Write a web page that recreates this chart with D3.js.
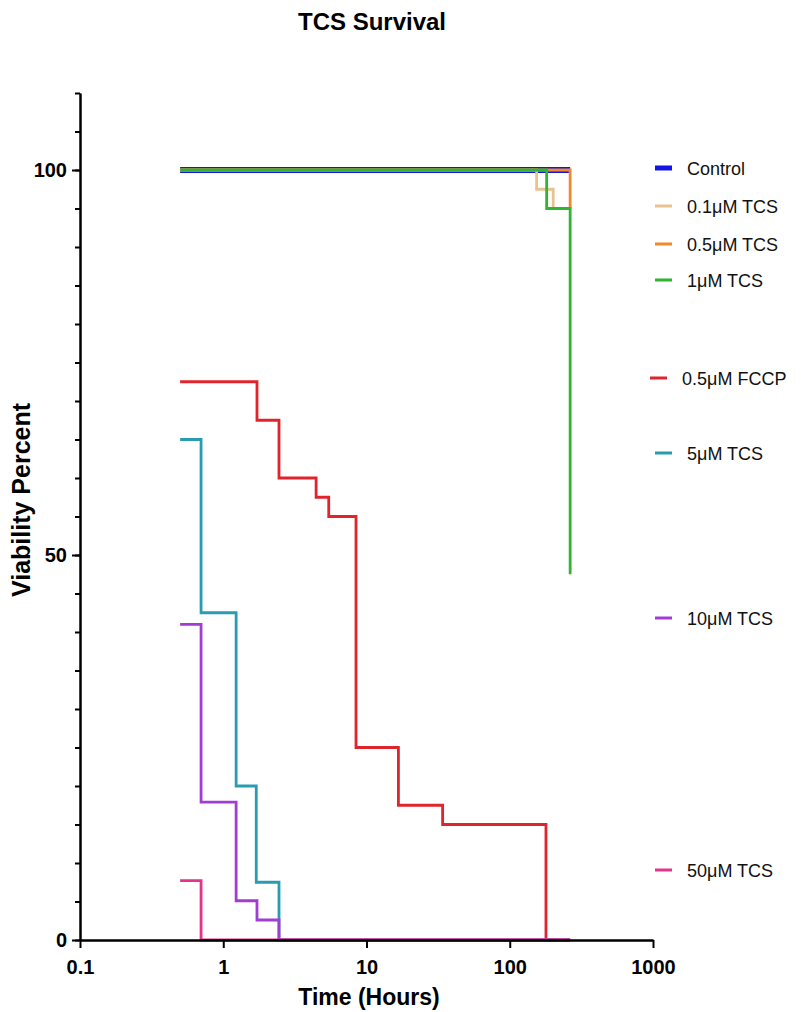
<!DOCTYPE html>
<html>
<head>
<meta charset="utf-8">
<script src="https://cdn.jsdelivr.net/npm/d3@7"></script>
<style>
  body { margin: 0; background: #fff; }
  svg text { font-family: "Liberation Sans", Arial, sans-serif; }
</style>
</head>
<body>
<div id="chart"></div>
<script>
// survival curves, time in hours, viability in percent
const seriesNames = ["Control", "0.1\u03bcM TCS", "0.5\u03bcM TCS", "1\u03bcM TCS",
                     "0.5\u03bcM FCCP", "5\u03bcM TCS", "10\u03bcM TCS", "50\u03bcM TCS"];
const seriesColors = ["#1414e6", "#e9c28f", "#f0892a", "#2fb52f",
                      "#e0242b", "#2a9cb2", "#a23dd4", "#e5338a"];

const controlTimes = [0.5, 264];
const controlVals = [100, 100];
const tcs01Times = [0.5, 154, 201, 264];
const tcs01Vals = [100, 97.5, 95, 95];
const tcs05Times = [0.5, 264];
const tcs05Vals = [100, 95];
const tcs1Times = [0.5, 181, 264];
const tcs1Vals = [100, 95, 47.5];
const fccpTimes = [0.5, 1.72, 2.45, 4.45, 5.45, 8.45, 16.7, 34, 179, 264];
const fccpVals = [72.5, 67.5, 60, 57.5, 55, 25, 17.5, 15, 0, 0];
const tcs5Times = [0.5, 0.7, 1.23, 1.7, 2.45, 264];
const tcs5Vals = [65, 42.5, 20, 7.5, 0, 0];
const tcs10Times = [0.5, 0.7, 1.23, 1.72, 2.45, 264];
const tcs10Vals = [41, 17.9, 5.1, 2.6, 0, 0];
const tcs50Times = [0.5, 0.7, 264];
const tcs50Vals = [7.7, 0, 0];

const xTicks = [0.1, 1, 10, 100, 1000];
const yMajorTicks = [0, 50, 100];
const yMinorTicks = d3.range(0, 111, 5);

const allTimes = [controlTimes, tcs01Times, tcs05Times, tcs1Times, fccpTimes, tcs5Times, tcs10Times, tcs50Times];
const allVals = [controlVals, tcs01Vals, tcs05Vals, tcs1Vals, fccpVals, tcs5Vals, tcs10Vals, tcs50Vals];

let svgWidth = 801, svgHeight = 1012;
let margin = {top: 93, right: 148, bottom: 72, left: 80};

let svg = d3.select("#chart").append("svg")
            .attr("width", svgWidth)
            .attr("height", svgHeight);

let xScale = d3.scaleLog()
            .domain([0.1, 1000])
            .range([margin.left, svgWidth - margin.right]);
let yScale = d3.scaleLinear()
            .domain([0, 110])
            .range([svgHeight - margin.bottom, margin.top]);

// title
svg.append("text")
   .attr("x", 372).attr("y", 30)
   .attr("text-anchor", "middle")
   .style("font-weight", "bold").style("font-size", "24px")
   .text("TCS Survival");

// curves
let line = d3.line()
             .x(d => xScale(d[0]))
             .y(d => yScale(d[1]))
             .curve(d3.curveStepAfter);

seriesNames.forEach(function(name, i){
  let pts = allTimes[i].map((t, k) => [t, allVals[i][k]]);
  svg.append("path")
     .attr("d", line(pts))
     .attr("fill", "none")
     .attr("stroke", seriesColors[i])
     .attr("stroke-width", i == 0 ? 6 : 2.8)
     .attr("stroke-linejoin", "miter");
});

// x axis
let xAxis = d3.axisBottom(xScale)
              .tickValues(xTicks)
              .tickFormat(d3.format("~g"))
              .tickSizeInner(8).tickSizeOuter(0).tickPadding(12);
let gx = svg.append("g")
   .attr("transform", "translate(0," + yScale(0) + ")")
   .call(xAxis);
gx.select(".domain").attr("stroke-width", 2.5);
gx.selectAll(".tick line").attr("stroke-width", 2);
gx.selectAll(".tick text").style("font-size", "20px").style("font-weight", "bold").attr("fill", "#000");

// y axis minor ticks
let gyMinor = svg.append("g")
   .attr("transform", "translate(" + margin.left + ",0)")
   .call(d3.axisLeft(yScale).tickValues(yMinorTicks).tickSizeInner(5).tickSizeOuter(0).tickFormat(""));
gyMinor.selectAll(".tick line").attr("stroke-width", 2);

let gy = svg.append("g")
   .attr("transform", "translate(" + margin.left + ",0)")
   .call(d3.axisLeft(yScale).tickValues(yMajorTicks).tickSizeInner(8).tickSizeOuter(0).tickPadding(5));
gy.select(".domain").attr("stroke-width", 2.5);
gy.selectAll(".tick line").attr("stroke-width", 2);
gy.selectAll(".tick text").style("font-size", "20px").style("font-weight", "bold").attr("fill", "#000");

// axis titles
svg.append("text")
   .attr("x", 369).attr("y", 1005)
   .attr("text-anchor", "middle")
   .style("font-weight", "bold").style("font-size", "23px")
   .text("Time (Hours)");
svg.append("text")
   .attr("transform", "translate(30," + 500 + ") rotate(-90)")
   .attr("text-anchor", "middle")
   .style("font-weight", "bold").style("font-size", "25px")
   .text("Viability Percent");

// legend
let legendY = [168, 206, 244, 280, 378, 453, 618, 870];
let legendDx = [0, 0, 0, 0, -5, 0, 0, 0];
let legend = svg.append("g");
seriesNames.forEach(function(name, i){
  let g = legend.append("g").attr("transform", "translate(" + (655 + legendDx[i]) + "," + legendY[i] + ")");
  g.append("line")
   .attr("x1", 0).attr("x2", 17)
   .attr("y1", 0).attr("y2", 0)
   .attr("stroke", seriesColors[i])
   .attr("stroke-width", i == 0 ? 5 : 3);
  g.append("text")
   .attr("x", 32).attr("y", 6.5)
   .style("font-size", "18px")
   .attr("fill", "#111")
   .text(name);
});
</script>
</body>
</html>
